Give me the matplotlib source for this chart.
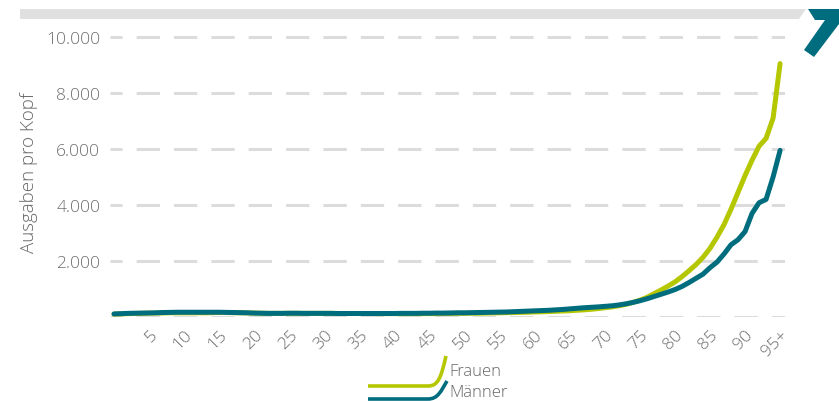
import matplotlib
matplotlib.use("Agg")
import matplotlib.pyplot as plt
from matplotlib.patches import Polygon, PathPatch
from matplotlib.path import Path

plt.rcParams['font.family'] = ['Open Sans', 'DejaVu Sans']
plt.rcParams['lines.scale_dashes'] = False

ages = list(range(0, 96))
frauen = [100, 110, 120, 125, 130, 135, 140, 145, 150, 150,
          150, 150, 150, 150, 155, 160, 160, 155, 150, 145,
          140, 135, 130, 130, 130, 130, 130, 130, 130, 130,
          130, 130, 125, 125, 125, 125, 125, 125, 120, 120,
          120, 120, 120, 120, 120, 120, 120, 125, 125, 130,
          130, 135, 135, 140, 145, 150, 155, 160, 165, 170,
          180, 185, 195, 205, 215, 225, 240, 255, 275, 300,
          330, 360, 400, 450, 520, 600, 700, 830, 960, 1100,
          1250, 1440, 1650, 1870, 2130, 2450, 2850, 3300, 3850, 4450,
          5050, 5600, 6100, 6380, 7100, 9050]
maenner = [110, 120, 130, 135, 140, 145, 150, 160, 165, 170,
           170, 170, 170, 170, 170, 170, 165, 160, 155, 150,
           140, 135, 130, 130, 130, 135, 135, 130, 130, 130,
           130, 130, 125, 125, 125, 125, 125, 125, 125, 125,
           125, 130, 130, 130, 135, 135, 140, 140, 145, 150,
           150, 155, 160, 165, 170, 175, 180, 190, 200, 210,
           220, 230, 240, 255, 270, 290, 310, 330, 345, 360,
           380, 400, 430, 470, 520, 580, 650, 730, 810, 890,
           980, 1090, 1230, 1380, 1530, 1760, 1960, 2250, 2580, 2760,
           3050, 3700, 4080, 4200, 5000, 5950]
xtick_pos = list(range(5, 96, 5))
xtick_labels = [str(a) for a in range(5, 95, 5)] + ["95+"]
ytick_pos = [0, 2000, 4000, 6000, 8000, 10000]
ytick_labels = ["", "2.000", "4.000", "6.000", "8.000", "10.000"]
series_names = ["Frauen", "Männer"]

GREEN = "#b5c700"
TEAL = "#006d7e"
GRID = "#dcdcdc"
TXT = "#6e6e6e"

W, H = 839, 402
fig = plt.figure(figsize=(W / 100, H / 100), dpi=100)

def fx(x):
    return x / W

def fy(y):
    return 1 - y / H

ax = fig.add_axes([fx(110), fy(318), (785 - 110) / W, (318 - 36) / H])
ax.set_xlim(-0.57, 95.7)
ax.set_ylim(0, 10071)

for yv in ytick_pos:
    ax.axhline(yv, color=GRID, lw=2.2, linestyle=(8.1, (16.8, 10.1)), zorder=1)

ax.plot(ages, frauen, color=GREEN, lw=3.6, solid_capstyle='round', solid_joinstyle='round', zorder=3)
ax.plot(ages, maenner, color=TEAL, lw=3.6, solid_capstyle='round', solid_joinstyle='round', zorder=4)

for s in ax.spines.values():
    s.set_visible(False)
ax.set_yticks(ytick_pos)
ax.set_yticklabels(ytick_labels)
ax.set_xticks(xtick_pos)
ax.set_xticklabels(xtick_labels, rotation=45, ha='right', va='top', rotation_mode='anchor')
ax.tick_params(axis='both', length=0, colors=TXT, labelsize=12.5)
ax.tick_params(axis='y', pad=7)
ax.tick_params(axis='x', pad=7)
for lab in ax.get_xticklabels() + ax.get_yticklabels():
    lab.set_fontweight('light')
    lab.set_color(TXT)
ax.set_ylabel("Ausgaben pro Kopf", fontsize=13.5, color="#666666", fontweight='light')
ax.yaxis.set_label_coords(-(110 - 29) / 675, (318 - 173) / 282)
ax.yaxis.label.set_va('center')

# header grey bar with slanted end
fig.patches.append(Polygon([(fx(20), fy(10)), (fx(806), fy(10)), (fx(799), fy(20)), (fx(20), fy(20))],
                           closed=True, transform=fig.transFigure, facecolor="#e0e0e0", edgecolor='none'))
# teal "7" mark
fig.patches.append(Polygon([(fx(808), fy(10)), (fx(839), fy(10)), (fx(839), fy(25)), (fx(814), fy(58)),
                            (fx(804), fy(51)), (fx(825), fy(21)), (fx(815), fy(21))],
                           closed=True, transform=fig.transFigure, facecolor=TEAL, edgecolor='none'))

# custom legend
def legend_curve(y0, ytop, xend, color):
    verts = [(fx(368), fy(y0)), (fx(428), fy(y0)),
             (fx(438), fy(y0)), (fx(441), fy(y0 - 8)), (fx(xend), fy(ytop))]
    codes = [Path.MOVETO, Path.LINETO, Path.CURVE4, Path.CURVE4, Path.CURVE4]
    fig.patches.append(PathPatch(Path(verts, codes), transform=fig.transFigure, facecolor='none',
                                 edgecolor=color, lw=2.6, capstyle='butt'))

legend_curve(387, 357, 446, GREEN)
legend_curve(400, 382, 447, TEAL)
fig.text(fx(449), fy(372), series_names[0], ha='left', va='center', fontsize=12, color="#666666", fontweight='light')
fig.text(fx(449), fy(393), series_names[1], ha='left', va='center', fontsize=12, color="#666666", fontweight='light')

fig.savefig("out.png", dpi=100)
